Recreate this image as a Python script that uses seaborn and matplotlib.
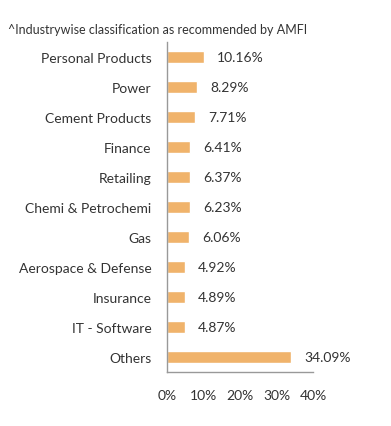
import matplotlib
matplotlib.use("Agg")
import matplotlib.pyplot as plt
import seaborn as sns
import pandas as pd

industries = ['Personal Products', 'Power', 'Cement Products', 'Finance', 'Retailing',
              'Chemi & Petrochemi', 'Gas', 'Aerospace & Defense', 'Insurance',
              'IT - Software', 'Others']
weights = [10.16, 8.29, 7.71, 6.41, 6.37, 6.23, 6.06, 4.92, 4.89, 4.87, 34.09]
xticks = [0, 10, 20, 30, 40]

df = pd.DataFrame({'industry': industries, 'weight': weights})

sns.set_style('white')
plt.rcParams['font.family'] = ['Lato', 'DejaVu Sans']

fig = plt.figure(figsize=(3.91, 4.27), dpi=100)
ax = fig.add_axes([0.427, 0.1265, 0.3735, 0.7725])

sns.barplot(data=df, x='weight', y='industry', color='#F0B36B', saturation=1,
            width=0.4, ax=ax)

for i, v in enumerate(weights):
    ax.annotate(f'{v:.2f}%', (v, i), xytext=(9.5, 0), textcoords='offset points',
                va='center', ha='left', fontsize=10, color='#333333')

ax.set_xlim(0, 40)
ax.set_xticks(xticks)
ax.set_xticklabels([f'{t}%' for t in xticks])
ax.set_ylim(len(industries) - 0.5, -0.5)
ax.set_yticks([i - 0.5 for i in range(len(industries) + 1)], minor=False)
ax.set_yticklabels([])
ax.set_yticks(range(len(industries)), minor=True)
ax.set_yticklabels(industries, minor=True)
ax.tick_params(axis='y', which='minor', length=0, pad=11, labelsize=10, labelcolor='#333333')
ax.tick_params(axis='y', which='major', length=4, color='#999999', width=1)
ax.tick_params(axis='x', length=4, color='#999999', labelsize=10, labelcolor='#333333', pad=8)
ax.set_xlabel('')
ax.set_ylabel('')

for s in ['top', 'right']:
    ax.spines[s].set_visible(False)
for s in ['left', 'bottom']:
    ax.spines[s].set_color('#999999')
    ax.spines[s].set_linewidth(1)

fig.text(0.02, 0.93, '^Industrywise classification as recommended by AMFI',
         fontsize=9, color='#333333', va='center', ha='left')

fig.savefig('out.png', dpi=100, facecolor='white')
